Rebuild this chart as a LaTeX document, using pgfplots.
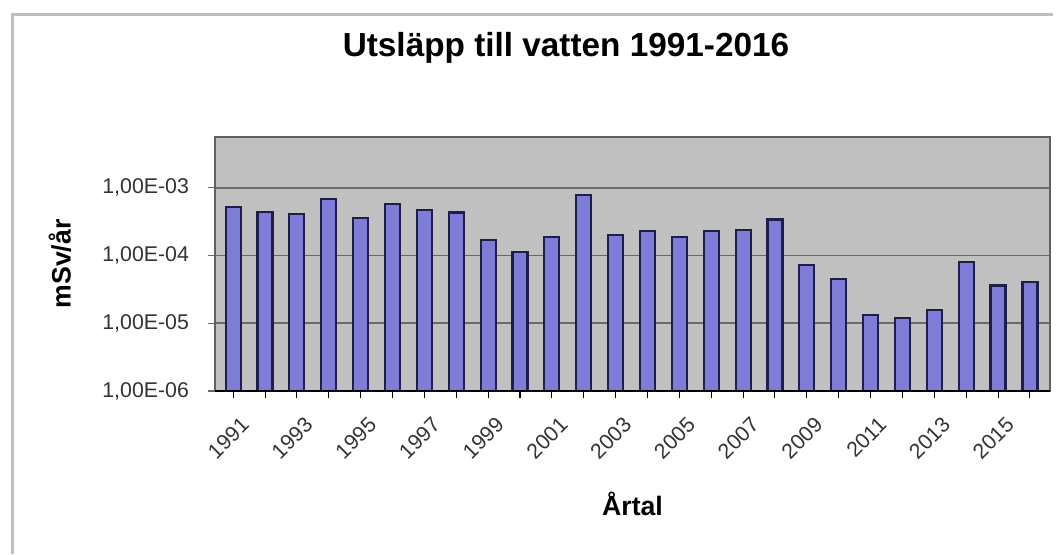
\documentclass[border=0pt]{standalone}
\usepackage{pgfplots}
\pgfplotsset{compat=1.18}
\usepackage{fontspec}
\setmainfont{Liberation Sans}
\definecolor{plotbg}{RGB}{192,192,192}
\definecolor{gridc}{RGB}{105,105,105}
\definecolor{framec}{RGB}{190,190,190}
\definecolor{barfill}{RGB}{125,125,215}
\definecolor{baredge}{RGB}{30,30,75}
\begin{document}
\begin{tikzpicture}
\useasboundingbox (0pt,0pt) rectangle (792pt,415.5pt);
\fill[white] (0pt,0pt) rectangle (792pt,415.5pt);
\draw[framec, line width=2.25pt] (9pt,0pt) -- (9pt,404.25pt) -- (789.75pt,404.25pt);
\begin{axis}[
  at={(161.25pt,122.25pt)}, anchor=south west,
  scale only axis, width=626.25pt, height=190.5pt,
  ymode=log, log origin y=infty,
  ymin=1e-6, ymax=5.6e-3,
  xmin=1990.43, xmax=2016.63,
  ybar, bar width=11.25pt,
  axis background/.style={fill=plotbg},
  axis line style={draw=gray!75!black, line width=1pt},
  ymajorgrids, major grid style={gridc, line width=1.2pt},
  yminorticks=false,
  ytick={1e-6,1e-5,1e-4,1e-3},
  yticklabels={{1,00E-06},{1,00E-05},{1,00E-04},{1,00E-03}},
  xtick={1991,1993,...,2015},
  xticklabels={1991,1993,1995,1997,1999,2001,2003,2005,2007,2009,2011,2013,2015},
  minor xtick={1992,1994,...,2016},
  tick align=outside, major tick length=5pt, minor tick length=5pt,
  tick style={black, line width=0.8pt},
  ytick style={gridc},
  xtick pos=bottom, ytick pos=left,
  ticklabel style={font=\fontsize{16}{19}\selectfont, text=black!80},
  xticklabel style={rotate=45, anchor=north east, inner sep=1pt, yshift=-12pt, xshift=-5pt},
  yticklabel style={xshift=-11pt},
  title={Utsläpp till vatten 1991-2016},
  title style={at={(rel axis cs:0.4204,1.2835)}, anchor=base, font=\bfseries\fontsize{25}{30}\selectfont},
  xlabel={Årtal},
  xlabel style={at={(rel axis cs:0.5,0)}, anchor=center, yshift=-84.75pt, font=\bfseries\fontsize{20}{24}\selectfont},
  ylabel={mSv/år},
  ylabel style={at={(rel axis cs:-0.1856,0.5)}, anchor=center, font=\bfseries\fontsize{20}{24}\selectfont},
  after end axis/.code={\draw[black, line width=1.6pt] (rel axis cs:0,0) -- (rel axis cs:1,0);},
]
\addplot[fill=barfill, draw=baredge, line width=1.6pt] coordinates {
(1991,5.2e-4) (1992,4.4e-4) (1993,4.1e-4) (1994,6.9e-4) (1995,3.6e-4)
(1996,5.8e-4) (1997,4.7e-4) (1998,4.3e-4) (1999,1.7e-4) (2000,1.13e-4)
(2001,1.9e-4) (2002,7.9e-4) (2003,2.0e-4) (2004,2.3e-4) (2005,1.9e-4)
(2006,2.3e-4) (2007,2.4e-4) (2008,3.4e-4) (2009,7.3e-5) (2010,4.5e-5)
(2011,1.33e-5) (2012,1.2e-5) (2013,1.58e-5) (2014,8.1e-5) (2015,3.6e-5)
(2016,4.1e-5)
};
\end{axis}
\end{tikzpicture}
\end{document}
